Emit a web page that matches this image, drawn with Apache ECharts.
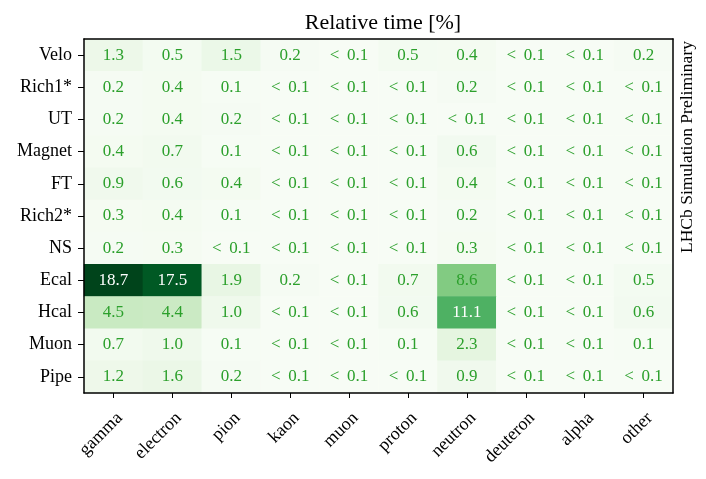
<!DOCTYPE html>
<html>
<head>
<meta charset="utf-8">
<script src="https://cdn.jsdelivr.net/npm/echarts@6/dist/echarts.min.js"></script>
<style>
  html, body { margin: 0; padding: 0; background: #fff; }
  #main { width: 706px; height: 479px; }
</style>
</head>
<body>
<div id="main"></div>
<script>
// particle types (columns) and detector regions (rows, top to bottom)
var particles = ['gamma', 'electron', 'pion', 'kaon', 'muon', 'proton', 'neutron', 'deuteron', 'alpha', 'other'];
var detectors = ['Velo', 'Rich1*', 'UT', 'Magnet', 'FT', 'Rich2*', 'NS', 'Ecal', 'Hcal', 'Muon', 'Pipe'];

// relative time in %, 0.05 stands for "< 0.1"
var velo   = [1.3, 0.5, 1.5, 0.2, 0.05, 0.5, 0.4, 0.05, 0.05, 0.2];
var rich1  = [0.2, 0.4, 0.1, 0.05, 0.05, 0.05, 0.2, 0.05, 0.05, 0.05];
var ut     = [0.2, 0.4, 0.2, 0.05, 0.05, 0.05, 0.05, 0.05, 0.05, 0.05];
var magnet = [0.4, 0.7, 0.1, 0.05, 0.05, 0.05, 0.6, 0.05, 0.05, 0.05];
var ft     = [0.9, 0.6, 0.4, 0.05, 0.05, 0.05, 0.4, 0.05, 0.05, 0.05];
var rich2  = [0.3, 0.4, 0.1, 0.05, 0.05, 0.05, 0.2, 0.05, 0.05, 0.05];
var ns     = [0.2, 0.3, 0.05, 0.05, 0.05, 0.05, 0.3, 0.05, 0.05, 0.05];
var ecal   = [18.7, 17.5, 1.9, 0.2, 0.05, 0.7, 8.6, 0.05, 0.05, 0.5];
var hcal   = [4.5, 4.4, 1.0, 0.05, 0.05, 0.6, 11.1, 0.05, 0.05, 0.6];
var muon   = [0.7, 1.0, 0.1, 0.05, 0.05, 0.1, 2.3, 0.05, 0.05, 0.1];
var pipe   = [1.2, 1.6, 0.2, 0.05, 0.05, 0.05, 0.9, 0.05, 0.05, 0.05];

var rows = [velo, rich1, ut, magnet, ft, rich2, ns, ecal, hcal, muon, pipe];

var data = [];
for (var r = 0; r < rows.length; r++) {
    for (var c = 0; c < particles.length; c++) {
        data.push([c, r, rows[r][c]]);
    }
}

var serif = '"Liberation Serif", "DejaVu Serif", serif';
var frameLine = { show: true, lineStyle: { color: '#000', width: 1.5 } };

var chart = echarts.init(document.getElementById('main'));
var option = {
    backgroundColor: '#fff',
    animation: false,
    textStyle: { fontFamily: serif },
    title: {
        text: 'Relative time [%]',
        left: 378, top: 7,
        textAlign: 'center',
        textStyle: { fontFamily: serif, fontSize: 22, fontWeight: 'normal', color: '#000' }
    },
    grid: { left: 84, right: 33, top: 39, bottom: 86, show: false },
    xAxis: [{
        type: 'category',
        data: particles,
        z: 5,
        axisLine: frameLine,
        axisTick: { show: true, alignWithLabel: true, length: 5, lineStyle: { color: '#000' } },
        axisLabel: { rotate: 45, fontFamily: serif, fontSize: 18, color: '#000', margin: 16, interval: 0, verticalAlign: 'top' },
        splitArea: { show: false }
    }, {
        // top frame edge
        type: 'category',
        position: 'top',
        data: particles,
        z: 5,
        axisLine: frameLine,
        axisTick: { show: false },
        axisLabel: { show: false }
    }],
    yAxis: [{
        type: 'category',
        data: detectors,
        inverse: true,
        z: 5,
        axisLine: frameLine,
        axisTick: { show: true, alignWithLabel: true, length: 6, lineStyle: { color: '#000' } },
        axisLabel: { fontFamily: serif, fontSize: 18, color: '#000', margin: 12, interval: 0 },
        splitArea: { show: false }
    }, {
        // right frame edge
        type: 'category',
        position: 'right',
        data: detectors,
        inverse: true,
        z: 5,
        axisLine: frameLine,
        axisTick: { show: false },
        axisLabel: { show: false }
    }],
    visualMap: {
        show: false,
        min: 0,
        max: 18.7,
        dimension: 2,
        inRange: {
            color: ['#f7fcf5', '#e5f5e0', '#c7e9c0', '#a1d99b', '#74c476', '#41ab5d', '#238b45', '#006d2c', '#00441b']
        }
    },
    series: [{
        type: 'heatmap',
        data: data,
        label: {
            show: true,
            fontFamily: serif,
            fontSize: 17,
            formatter: function (p) {
                var v = p.value[2];
                var txt = v < 0.1 ? '<\u2009 0.1' : v.toFixed(1);
                return v > 10 ? '{w|' + txt + '}' : '{g|' + txt + '}';
            },
            rich: {
                w: { color: '#fff', fontFamily: serif, fontSize: 17 },
                g: { color: '#2ca02c', fontFamily: serif, fontSize: 17 }
            }
        },
        emphasis: { disabled: true }
    }],
    graphic: [{
        type: 'text',
        x: 687, y: 147,
        rotation: Math.PI / 2,
        style: {
            text: 'LHCb Simulation Preliminary',
            fontFamily: serif,
            fontSize: 17.5,
            fill: '#000',
            align: 'center',
            verticalAlign: 'middle'
        }
    }]
};
chart.setOption(option);
</script>
</body>
</html>
